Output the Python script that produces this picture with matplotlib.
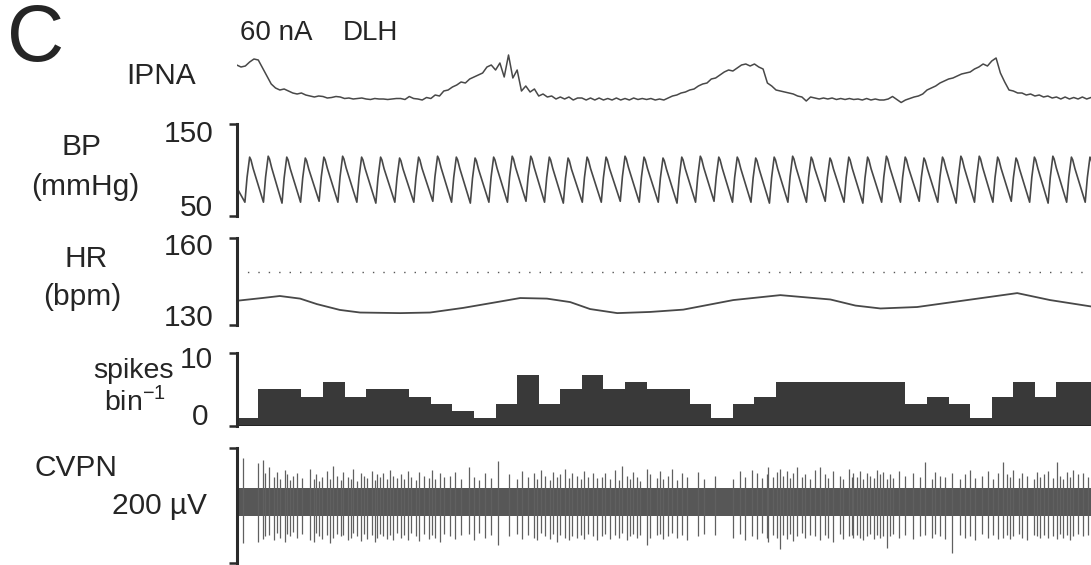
import numpy as np
import matplotlib
matplotlib.use("Agg")
import matplotlib.pyplot as plt

plt.rcParams['font.family'] = ['Liberation Sans', 'DejaVu Sans']
plt.rcParams['mathtext.fontset'] = 'custom'
plt.rcParams['mathtext.rm'] = 'Liberation Sans'

# ---------------- recorded traces (time in s) ----------------
T_END = 19.8

# integrated phrenic nerve activity, sampled every 0.1 s (a.u.)
ipna_dt = 0.1
ipna = [
    35, 33, 34, 38, 41, 40, 32, 24, 16, 12,
    10, 11, 9, 7, 6, 7, 5, 4, 3, 4,
    3.5, 2, 2.5, 3.5, 3, 1.5, 2, 1, 1.5, 2,
    1, 0.5, 1.5, 1, 1, 0.5, 1, 1.5, 1.5, 0.5,
    3.5, 1.5, 1, 0, 2.5, 1.5, 5, 4, 9, 10,
    13, 15, 18, 17, 21, 23, 25, 27, 33, 35,
    30, 37, 23, 45, 22, 30, 9, 14, 8, 11,
    4, 6, 3, 4, 1, 3, 1, 3, 0, 2,
    2, 0, 2, 0, 2, 0, 1.5, 0, 2, 0,
    1.5, 0, 2, 0.5, 1.5, 0.5, 1.5, 0, 1, 0,
    2, 4, 5, 7, 8, 10, 11, 14, 16, 17,
    21, 22, 25, 28, 30, 29, 32, 35, 36, 34,
    36, 33, 31, 17, 14, 10, 9, 8, 7, 6,
    4, 3, -1, 3, 2, 1, 2, 1, 2, 0.5,
    1.5, 0.5, 1.5, 0.5, 1, 0, 1.5, 0, 1, 0,
    0, 1, 3.5, 0.5, -2.5, 0, 1.5, 3, 4, 6,
    10, 12, 14, 17, 19, 21, 22, 24, 26, 27,
    28, 31, 33, 36, 34, 39, 42, 27, 18, 10,
    9, 7, 7, 5, 6, 4, 5, 3, 4, 2,
    3, 1, 3, 1, 2.5, 1, 3, 1, 2.5,
]

# arterial pressure: beat onset times (s), systolic and diastolic values (mmHg)
bp_onset = [0.19, 0.62, 1.05, 1.48, 1.91, 2.345, 2.785, 3.225, 3.665, 4.105,
            4.545, 4.98, 5.415, 5.845, 6.275, 6.705, 7.135, 7.57, 8.01, 8.45,
            8.89, 9.33, 9.77, 10.205, 10.635, 11.063, 11.491, 11.919, 12.347,
            12.775, 13.205, 13.64, 14.076, 14.512, 14.948, 15.384, 15.818,
            16.248, 16.674, 17.1, 17.526, 17.952, 18.378, 18.806, 19.236, 19.666]
bp_sys = [114, 115, 114, 113, 114, 115, 114, 114, 113, 114, 115, 114, 113, 114,
          115, 115, 114, 113, 114, 114, 115, 114, 113, 114, 115, 114, 114, 113,
          114, 115, 114, 113, 114, 114, 115, 114, 113, 114, 115, 115, 114, 113,
          114, 115, 114, 114]
bp_dia = [65, 65, 64, 65, 66, 65, 65, 64, 65, 65, 66, 65, 64, 65, 65, 66, 65, 64,
          65, 65, 66, 65, 65, 64, 65, 66, 65, 65, 64, 65, 65, 66, 65, 64, 65, 65,
          66, 65, 64, 65, 65, 66, 65, 64, 65, 65]
bp_start = 81

# heart rate (bpm)
hr_t = [0.03, 0.59, 1.0, 1.47, 1.86, 2.39, 2.86, 3.79, 4.48, 5.25, 6.03, 6.57,
        7.19, 7.73, 8.19, 8.82, 9.58, 10.35, 11.51, 12.60, 13.76, 14.34, 14.92,
        15.77, 16.93, 18.09, 18.85, 19.80]
hr = [138.4, 139.3, 140.0, 139.1, 137.2, 135.2, 134.3, 134.1, 134.3, 135.9, 137.9,
      139.3, 139.1, 137.9, 135.5, 134.1, 134.5, 135.3, 138.6, 140.3, 138.8, 136.7,
      135.7, 136.2, 138.6, 141.0, 138.6, 136.4]
hr_ref = 148.3

# unit discharge, counts per 0.5 s bin
bin_width = 0.5
spike_counts = [1, 5, 5, 4, 6, 4, 5, 5, 4, 3,
                2, 1, 3, 7, 3, 5, 7, 5, 6, 5,
                5, 3, 1, 3, 4, 6, 6, 6, 6, 6,
                6, 3, 4, 3, 1, 4, 6, 4, 6, 6]

# cardiac vagal nerve: spike times (s), upward and downward excursions (uV)
cvpn_t = [0.14, 0.50, 0.62, 0.66, 0.76, 0.86, 0.94, 1.00, 1.12, 1.17, 1.24, 1.30,
          1.39, 1.51, 1.70, 1.78, 1.84, 1.91, 1.97, 2.10, 2.16, 2.24, 2.33, 2.41,
          2.47, 2.59, 2.64, 2.70, 2.78, 2.87, 2.95, 3.01, 3.13, 3.21, 3.26, 3.32,
          3.40, 3.48, 3.55, 3.63, 3.71,
          3.80, 3.88, 3.97, 4.05, 4.15, 4.22, 4.33, 4.45, 4.52, 4.60, 4.71, 4.80,
          4.95, 5.05, 5.20, 5.38, 5.50, 5.62, 5.75, 5.90, 6.05, 6.30, 6.50, 6.62,
          6.75, 6.88, 6.97, 7.05, 7.15, 7.25, 7.33, 7.42, 7.50, 7.60, 7.70, 7.78,
          7.88, 7.97, 8.05, 8.15, 8.25, 8.35,
          8.46, 8.54, 8.65, 8.77, 8.85, 8.92, 9.04, 9.12, 9.19, 9.27, 9.35, 9.50,
          9.58, 9.74, 9.81, 9.89, 10.00, 10.08, 10.20, 10.32, 10.43, 10.70, 10.82,
          11.09, 11.51, 11.67, 11.78, 11.94, 12.05, 12.17, 12.29, 12.32, 12.44,
          12.52, 12.59, 12.67, 12.75, 12.83, 12.90, 12.98, 13.10, 13.17, 13.29,
          13.41, 13.52, 13.64, 13.71, 13.83, 13.98, 14.06, 14.18, 14.26, 14.29,
          14.37, 14.45, 14.52, 14.60, 14.68, 14.76, 14.83, 14.91, 14.99, 15.07,
          15.14, 15.22, 15.34, 15.49, 15.68, 15.84, 15.95, 16.11, 16.19, 16.30,
          16.42, 16.57, 16.77, 16.88, 17.00, 17.11, 17.27, 17.42, 17.54, 17.65,
          17.77, 17.85, 17.93, 18.00, 18.12, 18.20, 18.31, 18.47, 18.54, 18.62,
          18.70, 18.81, 18.93, 19.01, 19.08, 19.16, 19.24, 19.32, 19.39, 19.51,
          19.62, 19.74]
cvpn_up = [77, 68, 73, 50, 60, 44, 52, 40, 56, 48, 38, 46,
           50, 42, 58, 40, 48, 36, 44, 54, 40, 62, 46, 38,
           52, 44, 40, 58, 36, 50, 46, 42, 54, 38, 48, 44,
           50, 40, 56, 46, 42,
           48, 40, 54, 44, 38, 52, 46, 42, 56, 40, 50, 44,
           46, 52, 40, 60, 44, 38, 50, 42, 72, 48, 40, 54,
           44, 50, 40, 56, 46, 38, 52, 44, 48, 58, 42, 50,
           46, 40, 54, 44, 50, 42,
           44, 50, 40, 56, 38, 62, 46, 40, 52, 44, 36, 58,
           48, 42, 54, 40, 46, 58, 38, 50, 44, 52, 40,
           46, 40, 54, 44, 56, 50, 42, 48, 60, 44,
           52, 58, 46, 54, 42, 50, 60, 44, 48, 40,
           56, 61, 48, 42, 54, 46, 40, 58, 44, 50,
           44, 54, 40, 50, 46, 42, 56, 48, 52, 40,
           48, 42, 54, 46, 50, 44, 70, 40, 52, 46,
           44, 50, 40, 48, 56, 42, 46, 54, 40, 50,
           70, 48, 44, 56, 42, 50, 46, 40, 52, 44,
           48, 54, 42, 70, 46, 40, 52, 44, 56, 48,
           50, 44]
cvpn_down = [72, 70, 64, 60, 58, 66, 54, 62, 70, 56, 60, 52,
             62, 56, 66, 70, 54, 60, 64, 58, 72, 62, 56, 60,
             58, 66, 62, 54, 60, 68, 56, 64, 58, 70, 62, 56,
             60, 64, 58, 66, 54,
             62, 58, 66, 54, 60, 68, 56, 64, 58, 62, 70, 56,
             60, 64, 58, 56, 66, 54, 62, 58, 74, 60, 56, 64,
             58, 62, 66, 54, 60, 64, 56, 70, 58, 62, 66, 60,
             62, 58, 64, 56, 60, 66,
             60, 56, 64, 58, 62, 54, 66, 60, 56, 62, 58, 75,
             62, 58, 56, 64, 60, 54, 62, 58, 66, 60, 56,
             58, 62, 56, 66, 60, 64, 54, 62, 70, 58,
             62, 82, 58, 64, 56, 68, 60, 54, 62, 58,
             60, 66, 58, 62, 70, 56, 64, 60, 58, 62,
             58, 62, 66, 60, 56, 64, 58, 62, 60, 80,
             60, 56, 62, 58, 64, 60, 58, 62, 56, 60,
             64, 89, 58, 62, 60, 66, 56, 62, 58, 64,
             62, 58, 64, 60, 56, 62, 66, 58, 60, 62,
             58, 62, 60, 64, 56, 62, 58, 66, 60, 56,
             60, 58]
cvpn_noise = 25
cvpn_scale = (-106, 94)

# ---------------- figure ----------------
W, H = 1091, 565
fig = plt.figure(figsize=(W / 100, H / 100), dpi=100)
LEFT = 236.7
INK = '#2a2a2a'
TRACE = '#484848'
FS = 21.5


def panel(top, bottom, ylim):
    ax = fig.add_axes([LEFT / W, 1 - bottom / H, 1 - LEFT / W, (bottom - top) / H])
    ax.set_xlim(0, T_END)
    ax.set_ylim(*ylim)
    for s in ax.spines.values():
        s.set_visible(False)
    ax.set_xticks([])
    ax.set_yticks([])
    ax.patch.set_alpha(0)
    return ax


def bracket(ax, lo, hi):
    sp = ax.spines['left']
    sp.set_visible(True)
    sp.set_bounds(lo, hi)
    sp.set_linewidth(2.2)
    sp.set_color(INK)
    ax.set_yticks([lo, hi])
    ax.tick_params(axis='y', direction='out', length=6, width=1.8, color=INK,
                   labelleft=False)


def label(x, y, s, size=FS, ha='center', **kw):
    fig.text(x / W, 1 - y / H, s, ha=ha, va='center', fontsize=size, color='#252525', **kw)


# IPNA
ax = panel(30, 110, (-10, 70))
t = np.arange(len(ipna)) * ipna_dt
ax.plot(t, ipna, color=TRACE, lw=1.1)

# BP: each beat drawn as a fast upstroke, rounded peak and slower run-off
ax = panel(124, 216, (50, 150))
bracket(ax, 50, 150)
bx, by = [0.0], [bp_start]
for k, t0 in enumerate(bp_onset):
    s, d = bp_sys[k], bp_dia[k]
    bx += [t0, t0 + 0.05, t0 + 0.11, t0 + 0.14, t0 + 0.19]
    by += [d, d + 0.55 * (s - d), s, s - 0.06 * (s - d), s - 0.25 * (s - d)]
ax.plot(bx, by, color=TRACE, lw=1.2)

# HR
ax = panel(238, 325, (130, 160))
bracket(ax, 130, 160)
ax.axhline(hr_ref, color='#555', lw=1.0, ls=(0, (1, 6.5)))
ax.plot(hr_t, hr, color=TRACE, lw=1.3)

# spikes per bin
ax = panel(352.7, 425.7, (0, 10))
bracket(ax, 0, 10)
edges = np.arange(len(spike_counts) + 1) * bin_width
ax.stairs(spike_counts, edges, fill=True, color='#393939')
ax.axhline(0, color='#222', lw=2)

# CVPN
ax = panel(440, 565, (-109.6, 107.8))
bracket(ax, *cvpn_scale)
ax.fill_between([0, T_END], -cvpn_noise, cvpn_noise, color='#575757', lw=0)
ax.vlines(cvpn_t, [-a for a in cvpn_down], cvpn_up, color='#606060', lw=0.9)

# labels
label(36, 40, 'C', size=57)
label(240, 33, '60 nA', size=20, ha='left')
label(343, 33, 'DLH', size=20, ha='left')
label(161, 76, 'IPNA')
label(81, 147, 'BP')
label(85, 187, '(mmHg)')
label(213, 134, '150', ha='right')
label(213, 208, '50', ha='right')
label(86, 259, 'HR')
label(82, 297, '(bpm)')
label(213, 247, '160', ha='right')
label(213, 318, '130', ha='right')
label(133, 371, 'spikes', size=20.5)
label(135, 401, 'bin$^{\\mathregular{-1}}$', size=20.5)
label(213, 360, '10', ha='right')
label(208, 417, '0', ha='right')
label(76, 468, 'CVPN')
label(207, 506, '200 \u00b5V', ha='right')

fig.savefig('out.png', dpi=100)
